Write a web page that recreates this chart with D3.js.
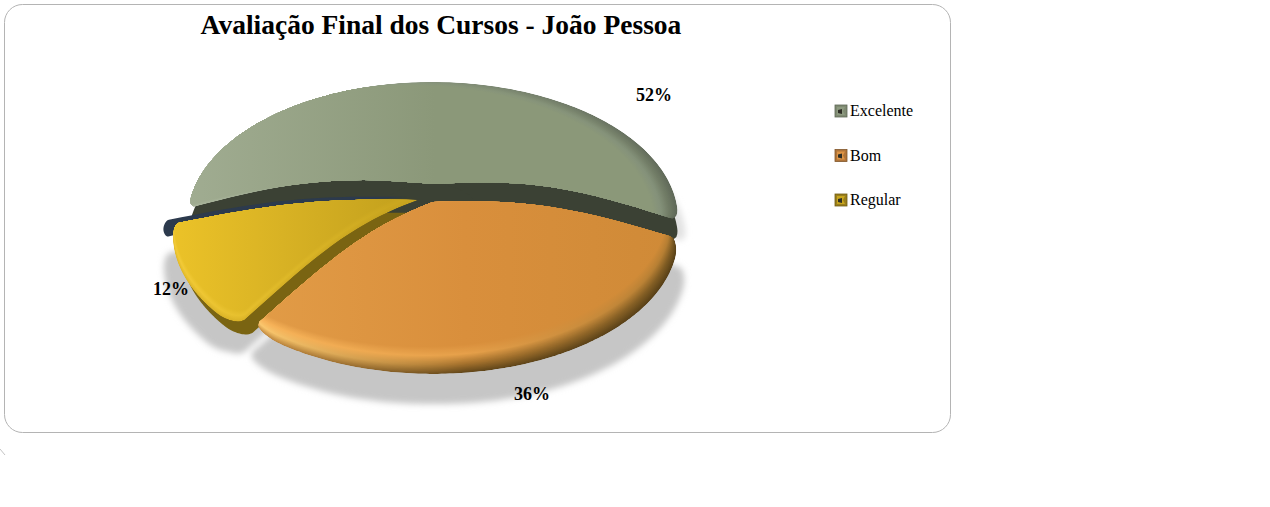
<!DOCTYPE html>
<html><head><meta charset="utf-8">
<style>html,body{margin:0;padding:0;background:#fff}svg{display:block}text{font-family:"Liberation Serif",serif;fill:#000}</style>
<script src="https://cdn.jsdelivr.net/npm/d3@7"></script></head>
<body><svg id="c" width="1270" height="507"></svg>
<script>
const categories=["Excelente","Bom","Regular"];
const values=[52,36,12];
const titleText="Avaliação Final dos Cursos - João Pessoa";

const svg=d3.select("#c"),defs=svg.append("defs");
defs.append("filter").attr("id","blur").attr("x","-10%").attr("y","-10%").attr("width","120%").attr("height","120%")
  .append("feGaussianBlur").attr("stdDeviation",3.2);

// frame
svg.append("rect").attr("x",4.5).attr("y",4.5).attr("width",946).attr("height",428).attr("rx",18)
  .attr("fill","#fff").attr("stroke","#b4b4b4").attr("stroke-width",1);
svg.append("path").attr("d","M0,449L5,455").attr("stroke","#c4c4c4").attr("fill","none");

// angles from the data; the perspective widens the back of the pie
const arcs=d3.pie().sort(null).startAngle(0).endAngle(1)(values);
const warp=d3.scaleLinear().domain([0,.52,.88,1]).range([-100,105,218,260]);
const R=237,k=.2555,a=128;
function proj(deg,r,ox,oy){
  const t=deg*Math.PI/180,X=Math.sin(t)*r,Y=Math.cos(t)*r,w=1+k*Y;
  return [ox+R*X/w,oy-a*Y/w];
}
const line=d3.line();
function slice(d0,d1,ox,oy,b0,b1,c0=.02,c1=.02,w=5){
  const edge=(deg,b,rev,c)=>{
    const p=d3.range(0,1.0001,.05).map(t=>{
      const q=proj(deg,t*(1-c),ox,oy);
      return [q[0],q[1]-b*Math.sin(Math.PI*t)];
    });
    return rev?p.reverse():p;
  };
  const pts=[...edge(d0,b0,false,c0)],n=160;
  for(let i=0;i<=n;i++){
    const deg=d0+(d1-d0)*i/n,e0=i/n*Math.abs(d1-d0),e1=(n-i)/n*Math.abs(d1-d0);
    const f=(e,c)=>e<w?c*(1-Math.sqrt(Math.max(0,1-Math.pow((w-e)/w,2)))):0;
    pts.push(proj(deg,1-f(e0,c0)-f(e1,c1),ox,oy));
  }
  pts.push(...edge(d1,b1,true,c1));
  return line(pts)+"Z";
}
const ang=arcs.map(d=>[warp(d.startAngle),warp(d.endAngle)]);
const dGreen=(dx=0,dy=0)=>slice(ang[0][0],ang[0][1],433+dx,184+dy,13,14);
const dOrange=(dx=0,dy=0)=>slice(ang[1][0],ang[1][1],433+dx,202+dy,12,13,.03,.04,9);
const dYellow=(dx=0,dy=0)=>slice(ang[2][0],ang[2][1],418+dx,200+dy,14,8,.04,.02,6);

// shadows
const sh=svg.append("g").attr("filter","url(#blur)");
sh.append("path").attr("d",dGreen(8,22)).attr("fill","#e2e2e2");
[[-7,30],[8,30]].forEach(o=>sh.append("path").attr("d",dOrange(...o)).attr("fill","#c6c6c6"));
[[-9,30],[0,32]].forEach(o=>sh.append("path").attr("d",dYellow(...o)).attr("fill","#c6c6c6"));

function bevel(id,dFn,dx,dy,N,x1,x2,color){
  defs.append("clipPath").attr("id","clip"+id).append("path").attr("d",dFn());
  const g=svg.append("g").attr("clip-path","url(#clip"+id+")");
  for(let i=0;i<=N;i++){
    const c=color(i/N),gid=id+"g"+i;
    const lg=defs.append("linearGradient").attr("id",gid).attr("gradientUnits","userSpaceOnUse")
      .attr("x1",x1).attr("x2",x2).attr("y1",0).attr("y2",0);
    c.forEach((col,j)=>lg.append("stop").attr("offset",j/(c.length-1)).attr("stop-color",col));
    g.append("path").attr("d",dFn(dx*i,dy*i)).attr("fill","url(#"+gid+")");
  }
}
const ramp=cols=>d3.piecewise(d3.interpolateRgb,cols);

// back slice and the dark hub under the apex
svg.append("path").attr("d",dGreen(0,21)).attr("fill","#3b4134");
svg.append("path").attr("d",line(d3.range(0,361,20).map(t=>proj(t,.2,430,208)))+"Z").attr("fill","#3b4134");
const gL=ramp(["#aab59c","#a6b298","#a0ac91"]),gM=ramp(["#84907a","#88957a","#8b9879"]),gR=ramp(["#5e6757","#6f7a64","#84917a","#8b9879"]);
bevel("g",dGreen,-1.1,.15,22,190,680,t=>[gL(t),gM(t),gR(t)]);

// left slice
const nv=ang[2][1]-7;
svg.append("path").attr("d",slice(nv,ang[2][1],408,197,8,8)).attr("fill","#2c3a4d");
svg.append("path").attr("d",dYellow(8,13)).attr("fill","#7a6412");
const yL=ramp(["#e0b82a","#f3cb38","#ebc228"]),yN=ramp(["#d4ae24","#dfb928","#d8b224"]),yM=ramp(["#c6a21e","#cba71f","#c6a31e"]);
bevel("y",dYellow,.12,-.9,12,175,390,t=>[yL(t),yN(t),yM(t)]);

// front slice
const oL=ramp(["#c98f42","#ffcc72","#f8b45a","#e29c47"]),oM=ramp(["#63471a","#a9742e","#e6a04a","#d98f3c"]),oR=ramp(["#563f17","#7c5a22","#b27c31","#cf8a37"]);
bevel("o",dOrange,-.35,-.9,30,250,680,t=>[oL(t),oM(t),oR(t)]);

// percent labels
const labelPos=[[654,101],[532,400],[171,295]];
svg.append("g").selectAll("text").data(values).join("text")
  .attr("x",(d,i)=>labelPos[i][0]).attr("y",(d,i)=>labelPos[i][1])
  .attr("text-anchor","middle").attr("font-size",18).attr("font-weight","bold").text(d=>d+"%");

// title
svg.append("text").attr("x",441).attr("y",34).attr("text-anchor","middle")
  .attr("font-size",27.5).attr("font-weight","bold").text(titleText);

// legend
const legY=d3.scalePoint().domain(categories).range([111,200]);
const swatch=["#7f8a72","#b0753a","#9a7f1c"],inner=["#8d9a80","#dd9445","#c9a61e"],edge=["#5d6655","#80562a","#6f5b12"];
const lg=svg.append("g").selectAll("g").data(categories).join("g")
  .attr("transform",d=>`translate(835,${legY(d)-6})`);
lg.append("rect").attr("width",12).attr("height",12).attr("fill",(d,i)=>swatch[i]).attr("stroke",(d,i)=>edge[i]).attr("stroke-width",.8);
lg.append("path").attr("d","M2,2H10L8,6L10,10H2Z").attr("fill",(d,i)=>inner[i]);
lg.append("path").attr("d","M3,5L7,4V9L3,8Z").attr("fill","#2e2e26");
lg.append("text").attr("x",15).attr("y",11).attr("font-size",16).text(d=>d);
</script></body></html>
